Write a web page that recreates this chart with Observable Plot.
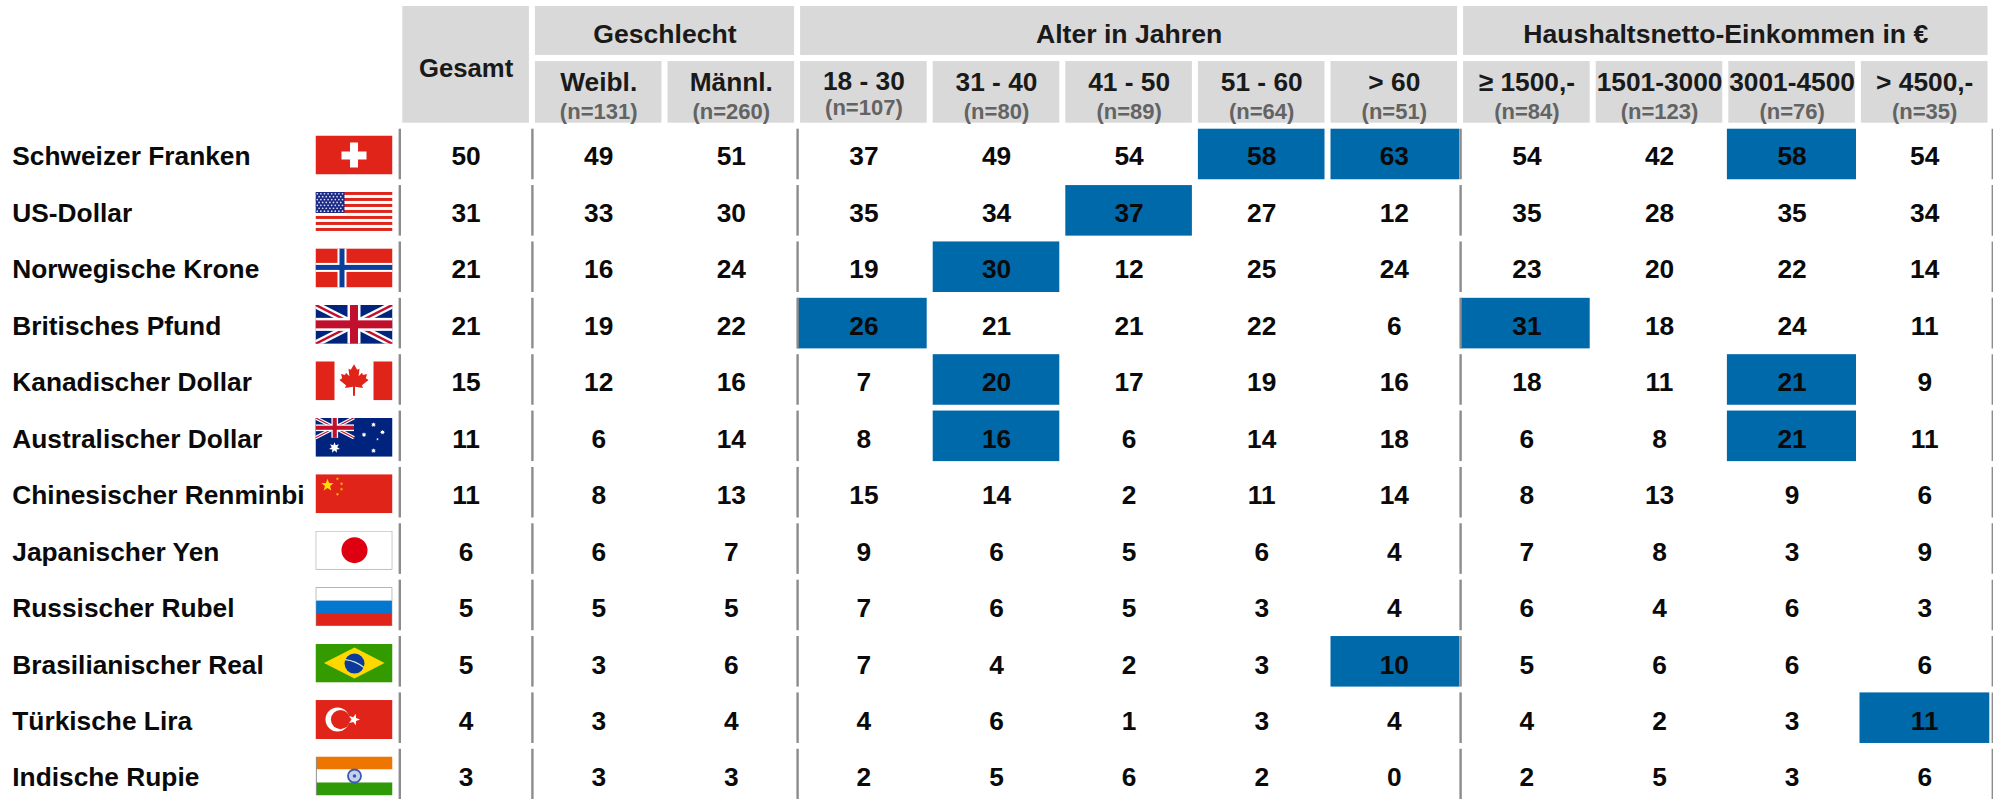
<!DOCTYPE html>
<html><head><meta charset="utf-8">
<script src="https://cdn.jsdelivr.net/npm/d3@7"></script>
<script src="https://cdn.jsdelivr.net/npm/@observablehq/plot@0.6"></script>
<style>html,body{margin:0;padding:0;background:#fff;overflow:hidden}svg{display:block}</style>
</head><body><div id="chart"></div>
<script>
const currencies = ["Schweizer Franken","US-Dollar","Norwegische Krone","Britisches Pfund","Kanadischer Dollar","Australischer Dollar","Chinesischer Renminbi","Japanischer Yen","Russischer Rubel","Brasilianischer Real","Türkische Lira","Indische Rupie"];
const flagCodes = ["ch","us","no","gb","ca","au","cn","jp","ru","br","tr","in"];
const groupNames = ["Gesamt","Geschlecht","Alter in Jahren","Haushaltsnetto-Einkommen in €"];
const groupSpans = [1,2,5,4];
const columnLabels = [null,"Weibl.","Männl.","18 - 30","31 - 40","41 - 50","51 - 60","> 60","≥ 1500,-","1501-3000","3001-4500","> 4500,-"];
const sampleSizes = [null,"(n=131)","(n=260)","(n=107)","(n=80)","(n=89)","(n=64)","(n=51)","(n=84)","(n=123)","(n=76)","(n=35)"];
const schweizerFranken = [50,49,51,37,49,54,58,63,54,42,58,54];
const usDollar = [31,33,30,35,34,37,27,12,35,28,35,34];
const norwegischeKrone = [21,16,24,19,30,12,25,24,23,20,22,14];
const britischesPfund = [21,19,22,26,21,21,22,6,31,18,24,11];
const kanadischerDollar = [15,12,16,7,20,17,19,16,18,11,21,9];
const australischerDollar = [11,6,14,8,16,6,14,18,6,8,21,11];
const chinesischerRenminbi = [11,8,13,15,14,2,11,14,8,13,9,6];
const japanischerYen = [6,6,7,9,6,5,6,4,7,8,3,9];
const russischerRubel = [5,5,5,7,6,5,3,4,6,4,6,3];
const brasilianischerReal = [5,3,6,7,4,2,3,10,5,6,6,6];
const tuerkischeLira = [4,3,4,4,6,1,3,4,4,2,3,11];
const indischeRupie = [3,3,3,2,5,6,2,0,2,5,3,6];
const seriesValues = [schweizerFranken,usDollar,norwegischeKrone,britischesPfund,kanadischerDollar,australischerDollar,chinesischerRenminbi,japanischerYen,russischerRubel,brasilianischerReal,tuerkischeLira,indischeRupie];
// [row, column] of the highlighted cells
const highlighted = [[0,6],[0,7],[0,10],[1,5],[2,4],[3,3],[3,8],[4,4],[4,10],[5,4],[5,10],[9,7],[10,11]];

/* ---------- flags ---------- */
const star = (cx,cy,r,fill,rot=0,n=5,inner=0.42)=>{
  const p=[];for(let i=0;i<n*2;i++){const a=-Math.PI/2+rot+i*Math.PI/n,q=i%2?r*inner:r;p.push((cx+q*Math.cos(a)).toFixed(2)+","+(cy+q*Math.sin(a)).toFixed(2));}
  return `<polygon points="${p.join(" ")}" fill="${fill}"/>`;
};
const R="#e0241a",W="#fff",NAVY="#00247d",UKR="#c1102e";
const rect=(x,y,w,h,f)=>`<rect x="${x}" y="${y}" width="${w}" height="${h}" fill="${f}"/>`;
const union=(w,h)=>{
  const l=(x1,y1,x2,y2,c,s)=>`<line x1="${x1}" y1="${y1}" x2="${x2}" y2="${y2}" stroke="${c}" stroke-width="${s}"/>`;
  const s=h/39;
  return rect(0,0,w,h,NAVY)+l(0,0,w,h,W,7*s)+l(w,0,0,h,W,7*s)+l(0,0,w,h,UKR,2.4*s)+l(w,0,0,h,UKR,2.4*s)
    +rect(w/2-6.5*s,0,13*s,h,W)+rect(0,h/2-6.5*s,w,13*s,W)+rect(w/2-4*s,0,8*s,h,UKR)+rect(0,h/2-4*s,w,8*s,UKR);
};
const leafHalf=[[0,3],[3.2,8.5],[5.5,7.4],[4.6,15],[8,11.4],[9,13.6],[13,12.6],[11.8,17],[14.6,18.6],[8,24],[8.9,26.6],[1,25.4],[1,34.5]];
const leaf=()=>{const pts=[...leafHalf.map(([x,y])=>[38.5+x,y]),...leafHalf.slice(1).reverse().map(([x,y])=>[38.5-x,y])];
  return `<polygon points="${pts.map(p=>p.join(",")).join(" ")}" fill="${R}"/>`;};
const flagBody={
  ch:()=>rect(0,0,77,39,R)+rect(26,16,25,8,W)+rect(34.5,7,8,25,W),
  us:()=>{let s=rect(0,0,77,39,W);for(let i=0;i<7;i++)s+=rect(0,i*6,77,3,R);s+=rect(0,0,29,21,"#1b2a85");
    for(let r=0;r<7;r++)for(let c=0;c<(r%2?7:8);c++)s+=`<circle cx="${(r%2?3.6:1.8)+c*3.6}" cy="${1.8+r*2.9}" r="0.85" fill="#dfe3f5"/>`;return s;},
  no:()=>rect(0,0,77,39,R)+rect(22,0,9,39,W)+rect(0,14.5,77,9,W)+rect(24,0,5,39,"#0b3d9a")+rect(0,16.5,77,5,"#0b3d9a"),
  gb:()=>union(77,39),
  ca:()=>rect(0,0,77,39,W)+rect(0,0,19,39,R)+rect(58,0,19,39,R)+leaf(),
  au:()=>rect(0,0,77,39,NAVY)+`<g>${union(38.5,20)}</g>`+star(19,30,5.6,W,0,7,.5)+star(58,7,2.6,W,0,7,.5)+star(67,14.5,2.6,W,0,7,.5)+star(48.5,17,2.6,W,0,7,.5)+star(62,21.5,1.4,W,0,5)+star(58,33,2.6,W,0,7,.5),
  cn:()=>rect(0,0,77,39,R)+star(12,11,6.4,"#ffde00")+star(22,4.5,1.8,"#ffb400",.4)+star(26,9.5,1.8,"#ffb400",.9)+star(26,15,1.8,"#ffb400",0)+star(22,20,1.8,"#ffb400",.4),
  jp:()=>rect(0,0,77,39,"#8a8a8a")+rect(.7,.7,75.6,37.6,W)+`<circle cx="39" cy="19.5" r="13" fill="#de0010"/>`,
  ru:()=>rect(0,0,77,39,"#8a8a8a")+rect(.8,.8,75.4,13,W)+rect(.8,13.5,75.4,13,"#0677cf")+rect(.8,26,75.4,12.2,R),
  br:()=>rect(0,0,77,39,"#339a00")+`<polygon points="8.5,19.5 39,4 69,19.5 39,35" fill="#ffd800"/><circle cx="39" cy="20" r="10" fill="#0c3a9c"/><path d="M29.5,16 Q40,17 48.5,24" stroke="#d8e8c8" stroke-width="1.2" fill="none"/>`,
  tr:()=>rect(0,0,77,39,R)+`<circle cx="22" cy="19.5" r="12" fill="${W}"/><circle cx="25" cy="19.5" r="9.6" fill="${R}"/>`+star(38.5,19.5,6,W,1.57),
  in:()=>rect(1,0,76,13,"#ed7500")+rect(1,13,76,13,W)+rect(1,26,76,13,"#2e9a08")+rect(0.3,0,.9,39,"#777")+`<circle cx="39" cy="19.5" r="6.5" fill="#c5cfee" stroke="#3a5bb0" stroke-width="1.8"/><circle cx="39" cy="19.5" r="1.8" fill="#3a5bb0"/>`
};
const flagSrc=c=>"data:image/svg+xml,"+encodeURIComponent(`<svg xmlns="http://www.w3.org/2000/svg" width="77" height="39" viewBox="0 0 77 39">${flagBody[c]()}</svg>`);

/* ---------- tables for the marks ---------- */
let start=0;
const groups=groupNames.map((name,i)=>{const g={name,x1:start,x2:start+groupSpans[i]};start=g.x2;return g;});
const columns=columnLabels.map((label,col)=>({label,n:sampleSizes[col],col})).filter(d=>d.label);
const cells=seriesValues.flatMap((vals,row)=>vals.map((value,col)=>({row,col,value})));
const rows=currencies.map((name,row)=>({name,row,flag:flagCodes[row]}));
const groupEnds=groups.map(g=>g.x2);
const separators=rows.flatMap(r=>[0,...groupEnds].map(x=>({x,row:r.row})));
const groupStarts=new Set([0,...groupEnds]);

// header bands, expressed in row heights above the first row
const TOP=-2.125,GROUP_BOTTOM=-1.256,SUB_TOP=-1.149,HEAD_BOTTOM=-0.055;
const GAP=0.0515;
const COL_PX=1/132.6;
// highlighted cells run up to a group separator, and sit a little wider in the last two columns
const cellLeft=c=>groupStarts.has(c)?0:(c>=10?1.6:3)*COL_PX;
const cellRight=c=>groupStarts.has(c+1)?(c===11?1.2:.8)*COL_PX:(c>=10?1.9:3)*COL_PX;
// text and flags run on a marginally longer row pitch than the separators
const DRIFT=1.0015;
const FONT="'Liberation Sans',Arial,sans-serif";

const chart=Plot.plot({
  width:1993,height:799,margin:0,
  style:{background:"#fff",fontFamily:FONT},
  x:{domain:[0,12],range:[399.3,1990.5],axis:null},
  y:{domain:[0,12],range:[125.8,802.24],axis:null},
  marks:[
    Plot.rect(groups,{x1:"x1",x2:"x2",y1:()=>TOP,y2:d=>d.x2-d.x1===1?HEAD_BOTTOM:GROUP_BOTTOM,fill:"#d9d9d9",insetLeft:3,insetRight:3}),
    Plot.rect(columns,{x1:"col",x2:d=>d.col+1,y1:()=>SUB_TOP,y2:()=>HEAD_BOTTOM,fill:"#d9d9d9",insetLeft:3,insetRight:3}),
    Plot.rect(highlighted,{x1:d=>d[1]+cellLeft(d[1]),x2:d=>d[1]+1-cellRight(d[1]),y1:d=>d[0]+GAP,y2:d=>d[0]+1-GAP,fill:"#0069a9"}),
    Plot.ruleX(separators.filter(d=>d.x<12),{x:"x",y1:d=>d.row+GAP,y2:d=>d.row+1-GAP,stroke:"#8c8c8c",strokeWidth:2.4}),
    Plot.ruleX(separators.filter(d=>d.x===12),{x:"x",dx:1.8,y1:d=>d.row+GAP,y2:d=>d.row+1-GAP,stroke:"#8c8c8c",strokeWidth:2.4}),
    Plot.text(groups,{x:d=>(d.x1+d.x2)/2,y:d=>d.x2-d.x1===1?-1.025:-1.628,text:"name",fontSize:d=>d.x2-d.x1===1?25.7:26.6,fontWeight:"bold",fill:"#1a1a1a"}),
    Plot.text(columns,{x:d=>d.col+.5,y:d=>d.col===3?-0.79:-0.777,text:"label",fontSize:26.3,fontWeight:"bold",fill:"#1a1a1a"}),
    Plot.text(columns,{x:d=>d.col+.5,y:d=>d.col===3?-0.32:-0.2625,text:"n",fontSize:22,fontWeight:"bold",fill:"#636363"}),
    Plot.text(rows,{x:()=>0,dx:-387.5,y:d=>d.row*DRIFT+.545,text:"name",textAnchor:"start",fontSize:26.3,fontWeight:"bold",fill:"#0a0a0a"}),
    Plot.image(rows,{x:()=>0,dx:-45.8,y:d=>d.row*DRIFT+.509,width:77,height:39,src:d=>flagSrc(d.flag),preserveAspectRatio:"none"}),
    Plot.text(cells,{x:d=>d.col+.5,y:d=>d.row*DRIFT+.545,text:d=>String(d.value),fontSize:26.3,fontWeight:"bold",fill:"#0a0a0a"})
  ]
});
document.getElementById("chart").append(chart);
</script></body></html>
